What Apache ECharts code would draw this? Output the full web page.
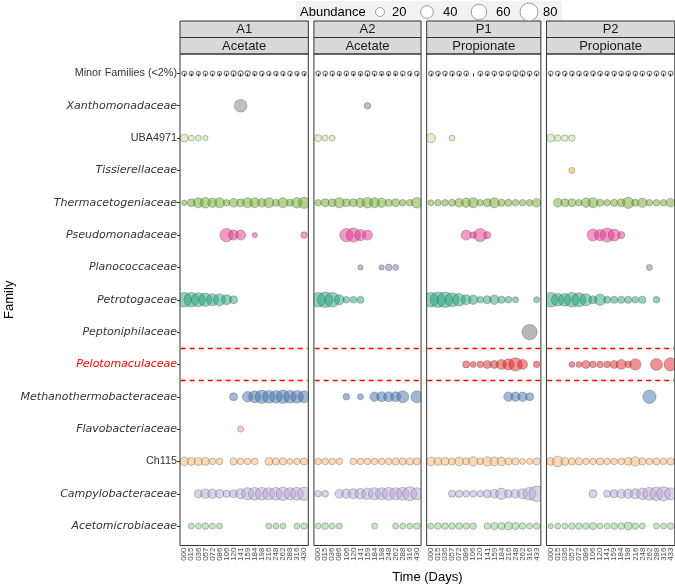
<!DOCTYPE html>
<html><head><meta charset="utf-8">
<script src="https://cdn.jsdelivr.net/npm/echarts@6/dist/echarts.min.js"></script>
<style>html,body{margin:0;padding:0;background:#fff}#c{width:675px;height:584px}</style>
</head><body><div id="c"></div>
<script>
const _ = null;
const families = ["Minor Families (<2%)","Xanthomonadaceae","UBA4971","Tissierellaceae","Thermacetogeniaceae","Pseudomonadaceae","Planococcaceae","Petrotogaceae","Peptoniphilaceae","Pelotomaculaceae","Methanothermobacteraceae","Flavobacteriaceae","Ch115","Campylobacteraceae","Acetomicrobiaceae"];
const plainLabels = ["Minor Families (<2%)","UBA4971","Ch115"];
const redLabel = "Pelotomaculaceae";
const famColors = ['#ffffff','#8c8c8c','#b2df8a','#e8ab2a','#66a61e','#e7298a','#7570b3','#1b9e77','#808080','#e41a1c','#386cb0','#f28e8e','#fbb06e','#b3a2d6','#7fc97f'];

const panelNames = ["A1","A2","P1","P2"];
const panelSubs = ["Acetate","Acetate","Propionate","Propionate"];
const daysA1 = ["000","015","036","057","072","086","106","120","141","159","184","198","216","248","262","288","316","430"];
const daysA2 = ["000","015","036","086","106","120","141","159","184","198","248","262","288","316","430"];
const daysP1 = ["000","015","036","057","072","086","106","120","141","159","184","216","248","262","316","433"];
const daysP2 = ["000","015","036","057","072","086","106","120","141","159","184","198","216","248","262","288","316","433"];
const legendValues = [20,40,60,80];

// rows follow the order of `families`
const abundA1 = [
 [5,4,4,5,5,4,5,6,6,6,4,5,4,4,4,5,4,4],
 [_,_,_,_,_,_,_,_,40,_,_,_,_,_,_,_,_,_],
 [16,9,9,7,_,_,_,_,_,_,_,_,_,_,_,_,_,_],
 [_,_,_,_,_,_,_,_,_,_,_,_,_,_,_,_,_,_],
 [7,16,25,28,22,25,11,19,16,25,25,19,25,13,25,13,28,32],
 [_,_,_,_,_,_,44,25,25,_,7,_,_,_,_,_,_,11],
 [_,_,_,_,_,_,_,_,_,_,_,_,_,_,_,_,_,_],
 [54,54,49,44,36,36,25,16,_,_,_,_,_,_,_,_,_,_],
 [_,_,_,_,_,_,_,_,_,_,_,_,_,_,_,_,_,_],
 [_,_,_,_,_,_,_,_,_,_,_,_,_,_,_,_,_,_],
 [_,_,_,_,_,_,_,16,_,28,36,44,40,40,44,40,40,36],
 [_,_,_,_,_,_,_,_,9,_,_,_,_,_,_,_,_,_],
 [19,16,16,16,11,11,_,13,11,11,11,_,16,13,13,9,11,13],
 [_,_,16,22,22,19,13,16,25,36,40,40,36,40,44,36,40,44],
 [_,9,9,11,9,9,_,_,_,_,_,_,9,9,9,_,9,11]
];
const abundA2 = [
 [5,5,5,4,5,4,4,6,5,4,4,4,5,4,5],
 [_,_,_,_,_,_,_,11,_,_,_,_,_,_,_],
 [13,9,9,_,_,_,_,_,_,_,_,_,_,_,_],
 [_,_,_,_,_,_,_,_,_,_,_,_,_,_,_],
 [11,16,16,25,16,16,22,28,25,22,13,16,11,11,28],
 [_,_,_,_,44,49,32,25,_,_,_,_,_,_,_],
 [_,_,_,_,_,_,7,_,_,7,11,9,_,_,_],
 [54,59,54,25,11,11,13,_,_,_,_,_,_,_,_],
 [_,_,_,_,_,_,_,_,_,_,_,_,_,_,_],
 [_,_,_,_,_,_,_,_,_,_,_,_,_,_,_],
 [_,_,_,_,11,_,9,_,22,25,25,25,36,_,36],
 [_,_,_,_,_,_,_,_,_,_,_,_,_,_,_],
 [11,11,11,11,_,11,11,11,11,11,11,13,13,13,13],
 [11,11,_,19,22,25,28,32,36,36,40,36,40,49,36],
 [9,11,9,9,_,_,_,_,9,_,_,9,9,9,11]
];
const abundP1 = [
 [5,5,5,5,5,5,_,5,4,5,5,5,6,6,5,5],
 [_,_,_,_,_,_,_,_,_,_,_,_,_,_,_,_],
 [22,_,_,9,_,_,_,_,_,_,_,_,_,_,_,_],
 [_,_,_,_,_,_,_,_,_,_,_,_,_,_,_,_],
 [9,11,11,13,19,22,25,11,16,25,13,13,11,11,11,19],
 [_,_,_,_,_,25,11,44,13,_,_,_,_,_,_,_],
 [_,_,_,_,_,_,_,_,_,_,_,_,_,_,_,_],
 [54,59,59,49,40,25,22,11,16,22,13,11,9,_,_,9],
 [_,_,_,_,_,_,_,_,_,_,_,_,_,_,59,_],
 [_,_,_,_,_,13,9,11,16,16,25,32,44,25,_,11],
 [_,_,_,_,_,_,_,_,_,_,_,22,22,22,16,_],
 [_,_,_,_,_,_,_,_,_,_,_,_,_,_,_,_],
 [19,16,16,13,19,13,22,11,22,19,19,13,13,9,9,13],
 [_,_,_,13,13,11,11,11,16,19,32,16,19,25,40,59],
 [9,11,11,11,11,11,11,_,11,13,13,16,13,11,9,11]
];
const abundP2 = [
 [5,5,5,5,5,5,5,5,4,5,5,5,5,5,5,5,5,5],
 [_,_,_,_,_,_,_,_,_,_,_,_,_,_,_,_,_,_],
 [16,11,11,11,_,_,_,_,_,_,_,_,_,_,_,_,_,_],
 [_,_,_,9,_,_,_,_,_,_,_,_,_,_,_,_,_,_],
 [_,19,16,16,11,22,25,13,11,13,16,32,13,22,11,11,11,19],
 [_,_,_,_,_,_,36,32,49,36,13,_,_,_,_,_,_,_],
 [_,_,_,_,_,_,_,_,_,_,_,_,_,_,9,_,_,_],
 [54,40,40,54,49,36,16,32,13,13,13,13,11,13,_,11,_,_],
 [_,_,_,_,_,_,_,_,_,_,_,_,_,_,_,_,_,_],
 [_,_,_,9,9,16,11,11,11,16,25,11,32,_,_,36,_,44],
 [_,_,_,_,_,_,_,_,_,_,_,_,_,_,44,_,_,_],
 [_,_,_,_,_,_,_,_,_,_,_,_,_,_,_,_,_,_],
 [16,28,16,13,13,11,11,13,11,11,11,16,22,13,11,13,11,13],
 [_,_,_,_,_,_,16,_,13,16,19,22,25,32,40,44,49,36],
 [7,9,9,11,11,11,13,9,9,11,11,16,11,9,_,9,9,11]
];

const panelDays = [daysA1, daysA2, daysP1, daysP2];
const panelRows = [abundA1, abundA2, abundP1, abundP2];

// layout
const S = 7.05, GAP = 5.6, LEFT0 = 180, TOP = 54, BOTTOM = 545.5;
const ROWH = (BOTTOM - TOP) / 15.2;
const K = 2.0;
const STRIP_TOP = 21;

function rgba(hex, a) {
  const n = parseInt(hex.slice(1), 16);
  return 'rgba(' + (n >> 16 & 255) + ',' + (n >> 8 & 255) + ',' + (n & 255) + ',' + a + ')';
}

const grids = [], xAxes = [], yAxes = [], series = [], graphics = [];
let L = LEFT0;
const panelBox = [];
panelDays.forEach((days, k) => {
  const n = days.length;
  const W = (n + 0.2) * S;
  panelBox.push([L, L + W]);
  grids.push({ left: L + 0.1 * S, top: TOP + 0.1 * ROWH, width: n * S, height: 15 * ROWH, containLabel: false });
  xAxes.push({
    type: 'category', gridIndex: k, data: days, boundaryGap: true, offset: 0.1 * ROWH, z: 12,
    axisLine: { show: false },
    axisTick: { show: true, alignWithLabel: true, interval: 0, length: 3, lineStyle: { color: '#333', width: 1 } },
    axisLabel: { interval: 0, rotate: 90, fontSize: 8, color: '#4d4d4d', margin: 2, fontFamily: 'Liberation Sans' },
    splitLine: { show: false }
  });
  yAxes.push({
    type: 'category', gridIndex: k, data: families, inverse: true, boundaryGap: true,
    offset: k === 0 ? 0.1 * S : 0, z: 12,
    axisLine: { show: false },
    axisTick: { show: k === 0, alignWithLabel: true, interval: 0, length: 3, lineStyle: { color: '#333', width: 1 } },
    axisLabel: {
      show: k === 0, interval: 0, margin: 3,
      formatter: v => plainLabels.includes(v) ? '{n|' + v + '}' : (v === redLabel ? '{r|' + v + '}' : '{i|' + v + '}'),
      rich: {
        n: { fontFamily: 'Liberation Sans', fontSize: 10.8, color: '#333' },
        i: { fontFamily: 'DejaVu Sans', fontStyle: 'italic', fontSize: 11, color: '#333' },
        r: { fontFamily: 'DejaVu Sans', fontStyle: 'italic', fontSize: 11, color: '#ff0000' }
      }
    },
    splitLine: { show: false }
  });
  yAxes.push({ type: 'value', gridIndex: k, min: -0.5, max: 14.5, inverse: true, show: false });

  panelRows[k].forEach((row, f) => {
    const data = [];
    row.forEach((v, i) => { if (v != null) data.push([i, f, v]); });
    if (!data.length) return;
    const minor = f === 0;
    const grey = f === 1 || f === 8;
    series.push({
      type: 'scatter', xAxisIndex: k, yAxisIndex: 2 * k, data: data, silent: true,
      symbolSize: d => K * Math.sqrt(d[2]),
      itemStyle: minor ? { color: 'rgba(255,255,255,0)', borderColor: 'rgba(50,50,50,0.75)', borderWidth: 1.3 }
        : { color: rgba(famColors[f], grey ? 0.7 : 0.6), borderColor: 'rgba(60,60,60,0.55)', borderWidth: 0.7 }
    });
  });
  series.push({
    type: 'scatter', xAxisIndex: k, yAxisIndex: 2 * k + 1, data: [], silent: true,
    markLine: { silent: true, symbol: 'none', label: { show: false },
      lineStyle: { color: '#ff0000', type: [5, 4], width: 1.3 },
      data: [{ yAxis: 8.5 }, { yAxis: 9.5 }] }
  });

  // strips
  const sh = (TOP - STRIP_TOP) / 2;
  graphics.push({ type: 'rect', z: 11, shape: { x: L, y: STRIP_TOP, width: W, height: sh }, style: { fill: '#d9d9d9', stroke: '#333', lineWidth: 1 } });
  graphics.push({ type: 'rect', z: 11, shape: { x: L, y: STRIP_TOP + sh, width: W, height: sh }, style: { fill: '#d9d9d9', stroke: '#333', lineWidth: 1 } });
  graphics.push({ type: 'text', z: 12, x: L + W / 2, y: STRIP_TOP + sh / 2 + 0.5, style: { text: panelNames[k], align: 'center', verticalAlign: 'middle', fontSize: 13, fontFamily: 'Liberation Sans', fill: '#1a1a1a' } });
  graphics.push({ type: 'text', z: 12, x: L + W / 2, y: STRIP_TOP + 1.5 * sh + 0.5, style: { text: panelSubs[k], align: 'center', verticalAlign: 'middle', fontSize: 13, fontFamily: 'Liberation Sans', fill: '#1a1a1a' } });
  // panel border
  graphics.push({ type: 'rect', z: 11, shape: { x: L, y: TOP, width: W, height: BOTTOM - TOP }, style: { fill: 'none', stroke: '#333', lineWidth: 1 } });
  L += W + GAP;
});

// masks to clip bubbles at panel edges
const masks = [[LEFT0 - 8, LEFT0]];
for (let k = 0; k < panelBox.length - 1; k++) masks.push([panelBox[k][1], panelBox[k + 1][0]]);
masks.push([panelBox[panelBox.length - 1][1], 700]);
masks.forEach(m => graphics.push({ type: 'rect', z: 10, shape: { x: m[0], y: TOP - 2, width: m[1] - m[0], height: BOTTOM - TOP + 4 }, style: { fill: '#fff' } }));

// axis titles
const cx = (LEFT0 + panelBox[panelBox.length - 1][1]) / 2;
graphics.push({ type: 'text', z: 12, x: cx, y: 577, style: { text: 'Time (Days)', align: 'center', verticalAlign: 'middle', fontSize: 13, fontFamily: 'Liberation Sans', fill: '#000' } });
graphics.push({ type: 'text', z: 12, x: 9, y: (TOP + BOTTOM) / 2, rotation: Math.PI / 2, style: { text: 'Family', align: 'center', verticalAlign: 'middle', fontSize: 13, fontFamily: 'Liberation Sans', fill: '#000' } });

// size legend
const legCircleX = [380, 427, 479, 529];
const legTextX = [392, 443, 496, 543];
const legY = 12;
graphics.push({ type: 'rect', z: 9, shape: { x: 296, y: 1, width: 266, height: 21 }, style: { fill: '#f2f2f2' } });
graphics.push({ type: 'text', z: 12, x: 300, y: legY, style: { text: 'Abundance', align: 'left', verticalAlign: 'middle', fontSize: 13, fontFamily: 'Liberation Sans', fill: '#000' } });
legendValues.forEach((v, i) => {
  graphics.push({ type: 'circle', z: 12, shape: { cx: legCircleX[i], cy: legY, r: K * Math.sqrt(v) / 2 }, style: { fill: '#fff', stroke: '#888', lineWidth: 0.8 } });
  graphics.push({ type: 'text', z: 12, x: legTextX[i], y: legY, style: { text: String(v), align: 'left', verticalAlign: 'middle', fontSize: 13, fontFamily: 'Liberation Sans', fill: '#000' } });
});

const chart = echarts.init(document.getElementById('c'), null, { renderer: 'canvas' });
chart.setOption({
  animation: false,
  backgroundColor: '#fff',
  grid: grids, xAxis: xAxes, yAxis: yAxes, series: series,
  graphic: { elements: graphics }
});
</script></body></html>
